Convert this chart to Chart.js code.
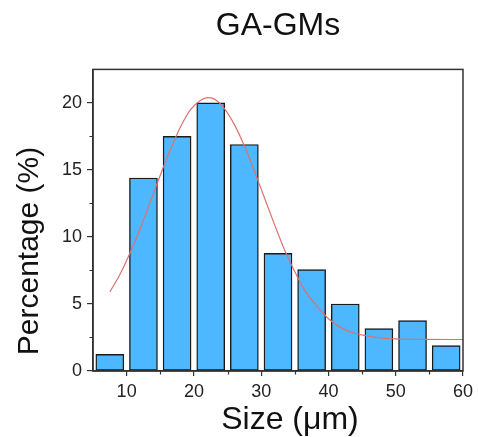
<!DOCTYPE html>
<html>
<head>
<meta charset="utf-8">
<script src="https://cdn.jsdelivr.net/npm/chart.js@4.4.1/dist/chart.umd.min.js"></script>
<style>
  html, body { margin: 0; padding: 0; background: #ffffff; }
  #c { display: block; }
</style>
</head>
<body>
<canvas id="c" width="478" height="437"></canvas>
<script>
// ---- data ----
const binCenters = [7.5, 12.5, 17.5, 22.5, 27.5, 32.5, 37.5, 42.5, 47.5, 52.5, 57.5];
const percentages = [1.24, 14.4, 17.5, 20.0, 16.9, 8.78, 7.56, 5.0, 3.16, 3.76, 1.89];

const fitX = [7.5, 9, 10.5, 12, 13.5, 15, 16.5, 18, 19.5, 21, 22, 23, 24.5, 26, 27.5, 29, 30.5, 32, 33.5, 35, 36.5, 38, 40, 42, 44, 46, 48, 50, 54, 60];
const fitY = [5.9, 7.2, 8.8, 10.6, 12.6, 14.6, 16.5, 18.2, 19.5, 20.2, 20.4, 20.3, 19.6, 18.4, 16.8, 14.9, 12.9, 10.9, 9.0, 7.4, 6.0, 5.0, 3.9, 3.2, 2.8, 2.6, 2.45, 2.4, 2.36, 2.35];

const xTicks = [10, 20, 30, 40, 50, 60];
const xMinorTicks = [15, 25, 35, 45, 55];
const yTicks = [0, 5, 10, 15, 20];
const yMinorTicks = [2.5, 7.5, 12.5, 17.5];

const chartTitle = 'GA-GMs';
const xTitle = 'Size (μm)';
const yTitle = 'Percentage (%)';

const FONT = '"Liberation Sans", Arial, Helvetica, sans-serif';
const AXIS_COLOR = '#333333';

const framePlugin = {
  id: 'frameAndTitles',
  afterDraw(chart) {
    const { ctx, chartArea: a, scales } = chart;
    ctx.save();
    // minor ticks
    ctx.strokeStyle = AXIS_COLOR;
    ctx.lineWidth = 1.2;
    ctx.beginPath();
    xMinorTicks.forEach(v => {
      const px = Math.round(scales.x.getPixelForValue(v)) + 0.5;
      ctx.moveTo(px, a.bottom);
      ctx.lineTo(px, a.bottom + 3.5);
    });
    yMinorTicks.forEach(v => {
      const py = Math.round(scales.y.getPixelForValue(v)) + 0.5;
      ctx.moveTo(a.left, py);
      ctx.lineTo(a.left - 3.5, py);
    });
    ctx.stroke();
    // frame
    ctx.lineWidth = 1.5;
    ctx.strokeStyle = AXIS_COLOR;
    ctx.strokeRect(a.left, a.top, a.right - a.left, a.bottom - a.top);
    // axis titles
    ctx.fillStyle = '#111111';
    ctx.textAlign = 'center';
    ctx.textBaseline = 'middle';
    ctx.font = '32px ' + FONT;
    ctx.fillText(xTitle, 290, 420);
    ctx.translate(30, 251);
    ctx.rotate(-Math.PI / 2);
    ctx.font = '30px ' + FONT;
    ctx.fillText(yTitle, 0, 0);
    ctx.restore();
  }
};

new Chart(document.getElementById('c'), {
  type: 'bar',
  data: {
    datasets: [
      {
        type: 'line',
        order: 0,
        data: fitX.map((x, i) => ({ x: x, y: fitY[i] })),
        borderColor: 'rgb(222, 112, 112)',
        borderWidth: 1.2,
        pointRadius: 0,
        fill: false,
        cubicInterpolationMode: 'monotone'
      },
      {
        type: 'bar',
        order: 1,
        data: binCenters.map((x, i) => ({ x: x, y: percentages[i] })),
        backgroundColor: 'rgb(77, 184, 255)',
        borderColor: '#1a1a1a',
        borderWidth: 1.4,
        borderSkipped: false,
        barThickness: 28
      }
    ]
  },
  options: {
    responsive: false,
    animation: false,
    devicePixelRatio: 1,
    layout: { padding: { left: 0, right: 11, top: 0, bottom: 0 } },
    plugins: {
      legend: { display: false },
      tooltip: { enabled: false },
      title: {
        display: true,
        text: chartTitle,
        fullSize: false,
        color: '#111111',
        font: { family: FONT, size: 32, weight: 'normal' },
        padding: { top: 7, bottom: 24 }
      }
    },
    scales: {
      x: {
        type: 'linear',
        min: 5,
        max: 60,
        offset: false,
        afterBuildTicks: s => { s.ticks = xTicks.map(v => ({ value: v })); },
        afterFit: s => { s.height = 66; },
        grid: { display: true, drawOnChartArea: false, offset: false, tickLength: 5, color: AXIS_COLOR, lineWidth: 1.2 },
        border: { display: true, color: AXIS_COLOR, width: 1.5 },
        ticks: { color: '#222222', font: { family: FONT, size: 18 }, padding: 5, maxRotation: 0, autoSkip: false }
      },
      y: {
        type: 'linear',
        min: 0,
        max: 22.5,
        afterBuildTicks: s => { s.ticks = yTicks.map(v => ({ value: v })); },
        afterFit: s => { s.width = 93; },
        grid: { display: true, drawOnChartArea: false, tickLength: 6, color: AXIS_COLOR, lineWidth: 1.2 },
        border: { display: true, color: AXIS_COLOR, width: 1.5 },
        ticks: { color: '#222222', font: { family: FONT, size: 18 }, padding: 5, autoSkip: false }
      }
    }
  },
  plugins: [framePlugin]
});
</script>
</body>
</html>
